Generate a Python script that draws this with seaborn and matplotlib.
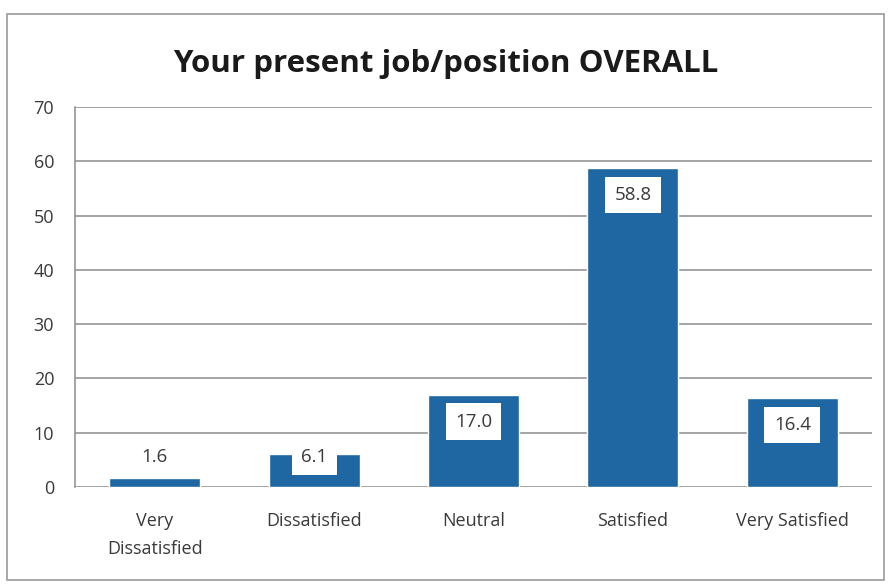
import matplotlib
matplotlib.use("Agg")
import matplotlib.pyplot as plt
import seaborn as sns
import pandas as pd
from matplotlib.patches import Rectangle

categories = ["Very\nDissatisfied", "Dissatisfied", "Neutral", "Satisfied", "Very Satisfied"]
values = [1.6, 6.1, 17.0, 58.8, 16.4]
y_ticks = [0, 10, 20, 30, 40, 50, 60, 70]

sns.set_theme(style="white")
plt.rcParams["font.family"] = ["Open Sans", "DejaVu Sans"]

bar_color = "#1f67a2"
text_color = "#3a3a3a"
grid_color = "#8c8c8c"

df = pd.DataFrame({"category": categories, "value": values})

fig = plt.figure(figsize=(8.91, 5.84), dpi=100)
ax = fig.add_axes([75 / 891, 1 - 487 / 584, (872 - 75) / 891, (487 - 107) / 584])

sns.barplot(data=df, x="category", y="value", color=bar_color, width=0.57,
            saturation=1, ax=ax, zorder=3)

ax.set_ylim(0, 70)
ax.set_yticks(y_ticks)
ax.set_yticklabels([str(t) for t in y_ticks], fontsize=13, color=text_color)
ax.set_xlim(-0.5, len(categories) - 0.5)
ax.tick_params(axis="x", labelsize=13, colors=text_color, length=0, pad=18)
ax.tick_params(axis="y", length=0, pad=15)
for lbl in ax.get_xticklabels():
    lbl.set_linespacing(1.75)
ax.set_xlabel("")
ax.set_ylabel("")

for t in y_ticks:
    ax.axhline(t, color=grid_color, lw=1.1, zorder=1)
for side in ["top", "right", "bottom"]:
    ax.spines[side].set_visible(False)
ax.spines["left"].set_color(grid_color)
ax.spines["left"].set_linewidth(1.1)

# value labels in white boxes near the top of each bar
for i, v in enumerate(values):
    ypos = max(v - 5.0, 5.6)
    ax.text(i, ypos, f"{v:.1f}", ha="center", va="center", fontsize=13.5,
            color=text_color, zorder=5,
            bbox=dict(boxstyle="square,pad=0.5", facecolor="white", edgecolor="none"))

fig.text(0.5, 1 - 64 / 584, "Your present job/position OVERALL", ha="center", va="center",
         fontsize=22.5, fontweight="bold", color="#1a1a1a")

# outer chart frame
fig.patches.append(Rectangle((7 / 891, 4 / 584), (884 - 7) / 891, (570 - 4) / 584,
                             transform=fig.transFigure, fill=False,
                             edgecolor="#9a9a9a", lw=1.2))

fig.savefig("out.png", dpi=100, facecolor="white")
